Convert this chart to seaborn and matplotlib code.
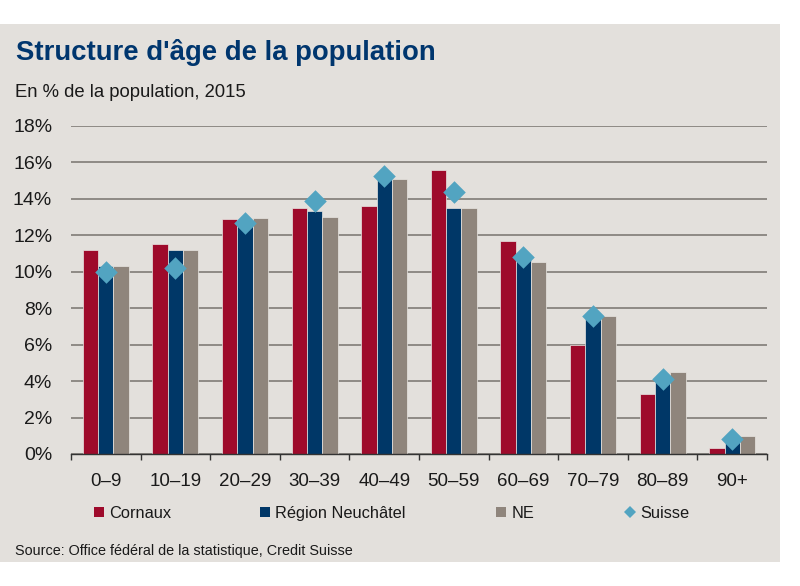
import numpy as np
import pandas as pd
import matplotlib
matplotlib.use("Agg")
import matplotlib.pyplot as plt
from matplotlib.patches import Rectangle
from matplotlib.lines import Line2D
import seaborn as sns

# ---- data ----
categories = ["0–9", "10–19", "20–29", "30–39", "40–49", "50–59", "60–69", "70–79", "80–89", "90+"]
cornaux = [11.2, 11.5, 12.9, 13.5, 13.6, 15.6, 11.7, 6.0, 3.3, 0.35]
region = [10.3, 11.2, 12.8, 13.35, 15.2, 13.5, 10.8, 7.6, 4.0, 0.7]
ne = [10.3, 11.2, 12.95, 13.0, 15.1, 13.5, 10.55, 7.55, 4.5, 1.0]
suisse = [10.0, 10.2, 12.7, 13.9, 15.25, 14.4, 10.8, 7.6, 4.1, 0.82]
series_names = ["Cornaux", "Région Neuchâtel", "NE"]
yticks = [0, 2, 4, 6, 8, 10, 12, 14, 16, 18]

colors = {"Cornaux": "#9E0A2B", "Région Neuchâtel": "#003767", "NE": "#8F857C"}
suisse_color = "#52A4C1"
bg = "#E3E0DC"

df = pd.DataFrame({
    "age": categories * 3,
    "value": cornaux + region + ne,
    "series": [series_names[0]] * 10 + [series_names[1]] * 10 + [series_names[2]] * 10,
})
df_s = pd.DataFrame({"age": categories, "value": suisse})

plt.rcParams["font.family"] = ["Liberation Sans", "DejaVu Sans"]

W, H = 800, 586
fig = plt.figure(figsize=(W / 100, H / 100), dpi=100)
fig.patch.set_facecolor("white")
fig.patches.append(Rectangle((0, (H - 562) / H), 780 / W, (562 - 24) / H,
                             transform=fig.transFigure, facecolor=bg, edgecolor="none", zorder=-10))

ax = fig.add_axes([71 / W, (H - 454) / H, (767 - 71) / W, (454 - 126) / H])
ax.patch.set_alpha(0)

sns.barplot(data=df, x="age", y="value", hue="series", order=categories,
            hue_order=series_names, palette=colors, width=0.66, saturation=1,
            edgecolor="#E9E6E2", linewidth=0.5, legend=False, ax=ax, zorder=2)
sns.stripplot(data=df_s, x="age", y="value", order=categories, jitter=False,
              marker="D", size=11.5, color=suisse_color, linewidth=0, ax=ax, zorder=4)

ax.set_xlim(-0.5, len(categories) - 0.5)
ax.set_ylim(0, 18)
ax.set_yticks(yticks)
ax.set_yticklabels([f"{v}%" for v in yticks], fontsize=14, color="#1a1a1a")
ax.tick_params(axis="y", length=0, pad=13.5)
ax.yaxis.grid(True, color="#8E8A85", linewidth=1.4, zorder=0)
ax.set_axisbelow(True)
ax.set_xticks(range(len(categories)))
ax.set_xticklabels(categories, fontsize=13.5, color="#1a1a1a")
ax.set_xticks(np.arange(-0.5, len(categories)), minor=True)
ax.tick_params(axis="x", which="major", length=0, pad=13.5)
ax.tick_params(axis="x", which="minor", length=4, width=1, color="#333333", direction="out")
ax.set_xlabel("")
ax.set_ylabel("")
for s in ["top", "right", "left"]:
    ax.spines[s].set_visible(False)
ax.spines["bottom"].set_color("#333333")
ax.spines["bottom"].set_linewidth(1.0)
ax.spines["bottom"].set_zorder(5)

# titles
fig.text(16 / W, (H - 60) / H, "Structure d'âge de la population", fontsize=19.8,
         fontweight="bold", color="#00366E", va="baseline", ha="left")
fig.text(15 / W, (H - 97) / H, "En % de la population, 2015", fontsize=13.3,
         color="#1a1a1a", va="baseline", ha="left")
fig.text(15 / W, (H - 551.5) / H, "Source: Office fédéral de la statistique, Credit Suisse",
         fontsize=10.4, color="#1a1a1a", va="center", ha="left")

# legend entries
entries = [
    ("Cornaux", "s", colors["Cornaux"], 98.5, 6.6),
    ("Région Neuchâtel", "s", colors["Région Neuchâtel"], 264.5, 6.6),
    ("NE", "s", colors["NE"], 501, 6.6),
    ("Suisse", "D", suisse_color, 630, 6.2),
]
for label, mk, col, xc, ms in entries:
    h = Line2D([], [], linestyle="none", marker=mk, markersize=ms, color=col, markeredgewidth=0)
    fs = 11.8
    hl = 0.65
    lg = fig.legend(handles=[h], labels=[label], loc="center left",
                    bbox_to_anchor=((xc - hl * fs * 100 / 72 / 2) / W, (H - 513.7) / H),
                    frameon=False, fontsize=fs, handlelength=hl, handletextpad=0.3,
                    borderpad=0, borderaxespad=0)
    for t in lg.get_texts():
        t.set_color("#1a1a1a")

fig.savefig("out.png", dpi=100, facecolor="white")
